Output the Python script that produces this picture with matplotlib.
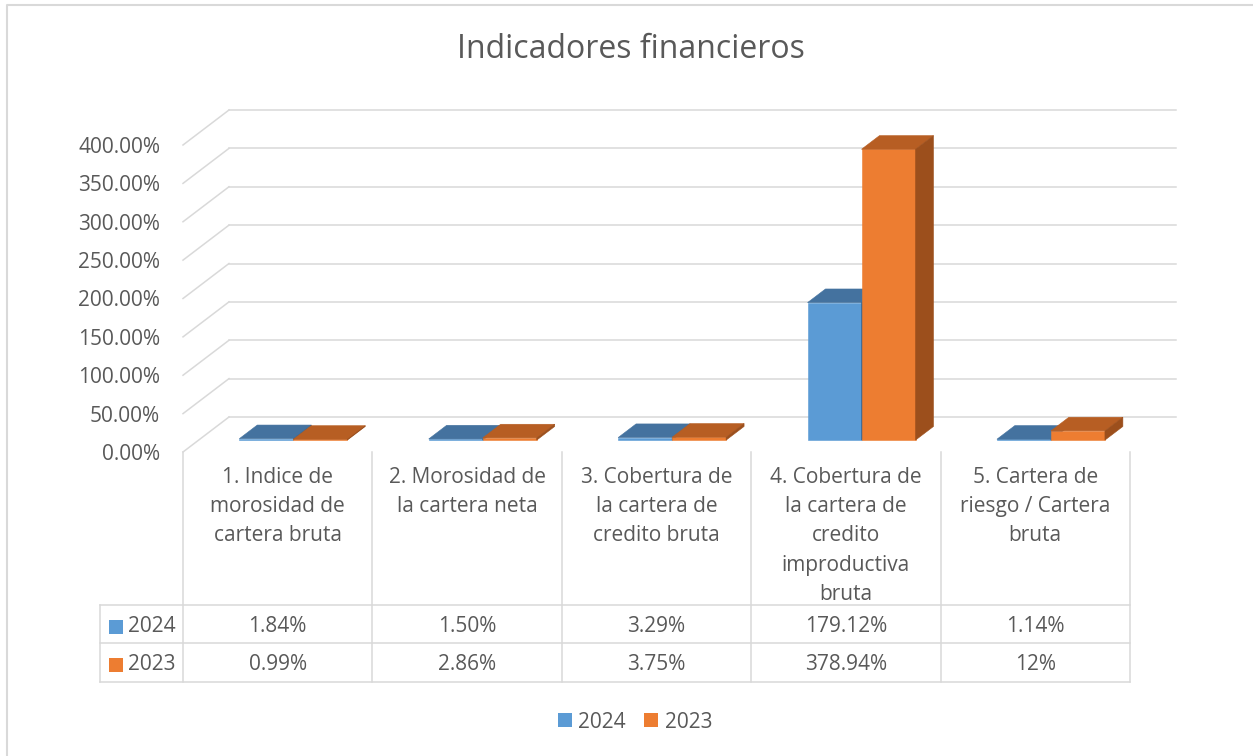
import matplotlib
matplotlib.use("Agg")
import matplotlib.pyplot as plt
from matplotlib.patches import Polygon, Rectangle, Patch

plt.rcParams['font.family'] = ['Open Sans', 'DejaVu Sans']

# ---- data ----
categories = [
    "1. Indice de\nmorosidad de\ncartera bruta",
    "2. Morosidad de\nla cartera neta",
    "3. Cobertura de\nla cartera de\ncredito bruta",
    "4. Cobertura de\nla cartera de\ncredito\nimproductiva\nbruta",
    "5. Cartera de\nriesgo / Cartera\nbruta",
]
series_names = ["2024", "2023"]
values_2024 = [1.84, 1.50, 3.29, 179.12, 1.14]
values_2023 = [0.99, 2.86, 3.75, 378.94, 12.0]
labels_2024 = ["1.84%", "1.50%", "3.29%", "179.12%", "1.14%"]
labels_2023 = ["0.99%", "2.86%", "3.75%", "378.94%", "12%"]
y_ticks = [0, 50, 100, 150, 200, 250, 300, 350, 400]

# ---- style ----
W, H = 1253, 756
GRID = '#d9d9d9'
TXT = '#595959'
front_cols = ['#5b9bd5', '#ed7d31']
top_cols = ['#44729f', '#b75e23']
side_cols = ['#3a6189', '#9c4f1c']
FS = 15

fig = plt.figure(figsize=(W / 100, H / 100), dpi=100)

# overlay axes in pixel coordinates for frame / table
ov = fig.add_axes([0, 0, 1, 1], zorder=0)
ov.set_xlim(0, W)
ov.set_ylim(H, 0)
ov.axis('off')

# main plot axes
px_left, px_right, px_top, px_bottom = 183, 1176, 110, 452
cat_w = (1130 - 183) / 5.0
ax = fig.add_axes([px_left / W, 1 - px_bottom / H,
                   (px_right - px_left) / W, (px_bottom - px_top) / H], zorder=2)
ax.patch.set_alpha(0)
dfx = 46 / cat_w
ppp = (417 - 110) / 400.0
dfy = 35 / ppp
ax.set_xlim(0, 5 + dfx)
ax.set_ylim(0, 400 + dfy)
for s in ax.spines.values():
    s.set_visible(False)

# walls / gridlines
for t in y_ticks:
    ax.plot([0, dfx], [t, t + dfy], color=GRID, lw=1.1, clip_on=False, zorder=1)
    ax.plot([dfx, 5 + dfx], [t + dfy, t + dfy], color=GRID, lw=1.1, clip_on=False, zorder=1)

ax.set_yticks(y_ticks)
ax.set_yticklabels([f"{t:.2f}%" for t in y_ticks])
ax.tick_params(axis='y', length=0, pad=16.5, labelsize=FS, labelcolor=TXT)

ax.set_xticks([i + 0.5 for i in range(5)])
ax.set_xticklabels(categories, linespacing=1.52)
ax.tick_params(axis='x', length=0, pad=10.5, labelsize=FS, labelcolor=TXT)

# 3D-like bars
d0, d1 = 0.34, 0.73
bw = 54 / cat_w
base = d0 * dfy
ddx, ddy = (d1 - d0) * dfx, (d1 - d0) * dfy
z = 3
for i in range(5):
    xc = i + 0.5 + d0 * dfx
    for k, vals in enumerate([values_2024, values_2023]):
        v = vals[i]
        xl = xc - bw if k == 0 else xc
        xr = xl + bw
        ax.bar(xl, v, width=bw, bottom=base, align='edge', color=front_cols[k],
               edgecolor=front_cols[k], linewidth=0.4, zorder=z, clip_on=False)
        top = base + v
        ax.add_patch(Polygon([(xl, top), (xr, top), (xr + ddx, top + ddy), (xl + ddx, top + ddy)],
                             closed=True, facecolor=top_cols[k], edgecolor=top_cols[k],
                             linewidth=0.4, zorder=z + 0.1, clip_on=False))
        ax.add_patch(Polygon([(xr, base), (xr, top), (xr + ddx, top + ddy), (xr + ddx, base + ddy)],
                             closed=True, facecolor=side_cols[k], edgecolor=side_cols[k],
                             linewidth=0.4, zorder=z + 0.2, clip_on=False))
        z += 1

# chart frame (left + top visible)
ov.plot([7, 7, W], [H, 5, 5], color=GRID, lw=1.5)

# data table
col_edges = [183 + i * cat_w for i in range(6)]
row_y = [605, 643, 682]
for x in col_edges:
    ov.plot([x, x], [452, row_y[-1]], color=GRID, lw=1.1)
ov.plot([100, 100], [row_y[0], row_y[-1]], color=GRID, lw=1.1)
for y in row_y:
    ov.plot([100, col_edges[-1]], [y, y], color=GRID, lw=1.1)

for r, (name, labs) in enumerate(zip(series_names, [labels_2024, labels_2023])):
    yc = (row_y[r] + row_y[r + 1]) / 2 + 2.5
    ov.add_patch(Rectangle((109, yc - 7), 14, 14, facecolor=front_cols[r], edgecolor='none'))
    ov.text(128, yc, name, ha='left', va='center', fontsize=FS, color=TXT)
    for i, lab in enumerate(labs):
        ov.text((col_edges[i] + col_edges[i + 1]) / 2, yc, lab, ha='center', va='center',
                fontsize=FS, color=TXT)

# title
fig.text(631 / W, 1 - 49 / H, "Indicadores financieros", ha='center', va='center',
         fontsize=23, color=TXT)

# legend
handles = [Patch(facecolor=c, edgecolor='none') for c in front_cols]
fig.legend(handles, series_names, loc='center', bbox_to_anchor=(635 / W, 1 - 722 / H),
           ncol=2, frameon=False, fontsize=FS, labelcolor=TXT, handlelength=0.67,
           handleheight=0.67, handletextpad=0.3, columnspacing=0.9)

fig.savefig("out.png", dpi=100)
